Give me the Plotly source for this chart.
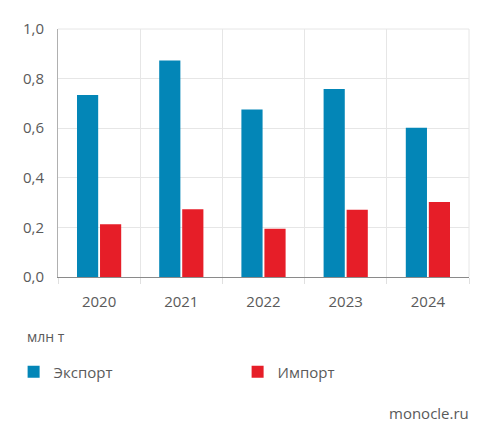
import plotly.graph_objects as go

years = ["2020", "2021", "2022", "2023", "2024"]
export_vals = [0.734, 0.873, 0.675, 0.758, 0.602]
import_vals = [0.213, 0.273, 0.195, 0.271, 0.302]
y_tickvals = [0.0, 0.2, 0.4, 0.6, 0.8, 1.0]
y_ticktext = ["0,0", "0,2", "0,4", "0,6", "0,8", "1,0"]

BLUE = "#0386B7"
RED = "#E61E28"
FONT = "'Open Sans', 'Noto Sans', sans-serif"
TXT = "#5a5a5a"

fig = go.Figure()
fig.add_trace(go.Bar(x=years, y=export_vals, name="Экспорт", marker=dict(color=BLUE, line_width=0)))
fig.add_trace(go.Bar(x=years, y=import_vals, name="Импорт", marker=dict(color=RED, line_width=0)))

# page body has an 8px margin, margins compensate for it
fig.update_layout(
    width=494, height=439,
    margin=dict(l=50, r=33, t=21, b=170, autoexpand=False),
    paper_bgcolor="white", plot_bgcolor="white",
    barmode="group", bargap=0.44, bargroupgap=0.08,
    font=dict(family=FONT, color=TXT, size=15),
    showlegend=True,
    legend=dict(orientation="h", x=-0.108, xanchor="left", y=-0.383, yanchor="middle",
                entrywidth=179, entrywidthmode="pixels", font=dict(size=15, color=TXT),
                itemsizing="constant", itemwidth=30, tracegroupgap=0),
    annotations=[
        dict(text="млн т", xref="paper", yref="paper", x=-0.08, y=-0.24,
             xanchor="left", yanchor="middle", showarrow=False, font=dict(size=14, color=TXT)),
        dict(text="monocle.ru", xref="paper", yref="paper", x=1.004, y=-0.548,
             xanchor="right", yanchor="middle", showarrow=False, font=dict(size=15, color=TXT)),
    ],
)
fig.update_xaxes(
    type="category", tickson="boundaries", showgrid=True, gridcolor="#e6e6e6", gridwidth=1,
    ticks="outside", ticklen=6, tickcolor="#e0e0e0", showline=True, linecolor="#8a8a8a", linewidth=1,
    ticklabelstandoff=11,
    tickfont=dict(size=15, color=TXT), fixedrange=True,
)
fig.update_yaxes(
    range=[0, 1.0], tickvals=y_tickvals, ticktext=y_ticktext,
    showgrid=True, gridcolor="#e6e6e6", gridwidth=1, zeroline=False,
    showline=True, linecolor="#b0b0b0", linewidth=1, ticks="", ticklabelstandoff=10,
    tickfont=dict(size=15, color=TXT), fixedrange=True,
)
fig.add_shape(type="line", xref="paper", yref="paper", x0=1, x1=1, y0=0, y1=1,
              line=dict(color="#e6e6e6", width=1))
fig.add_shape(type="line", xref="paper", yref="paper", x0=0, x1=1, y0=1, y1=1,
              line=dict(color="#e6e6e6", width=1))

fig.write_html("out.html")
